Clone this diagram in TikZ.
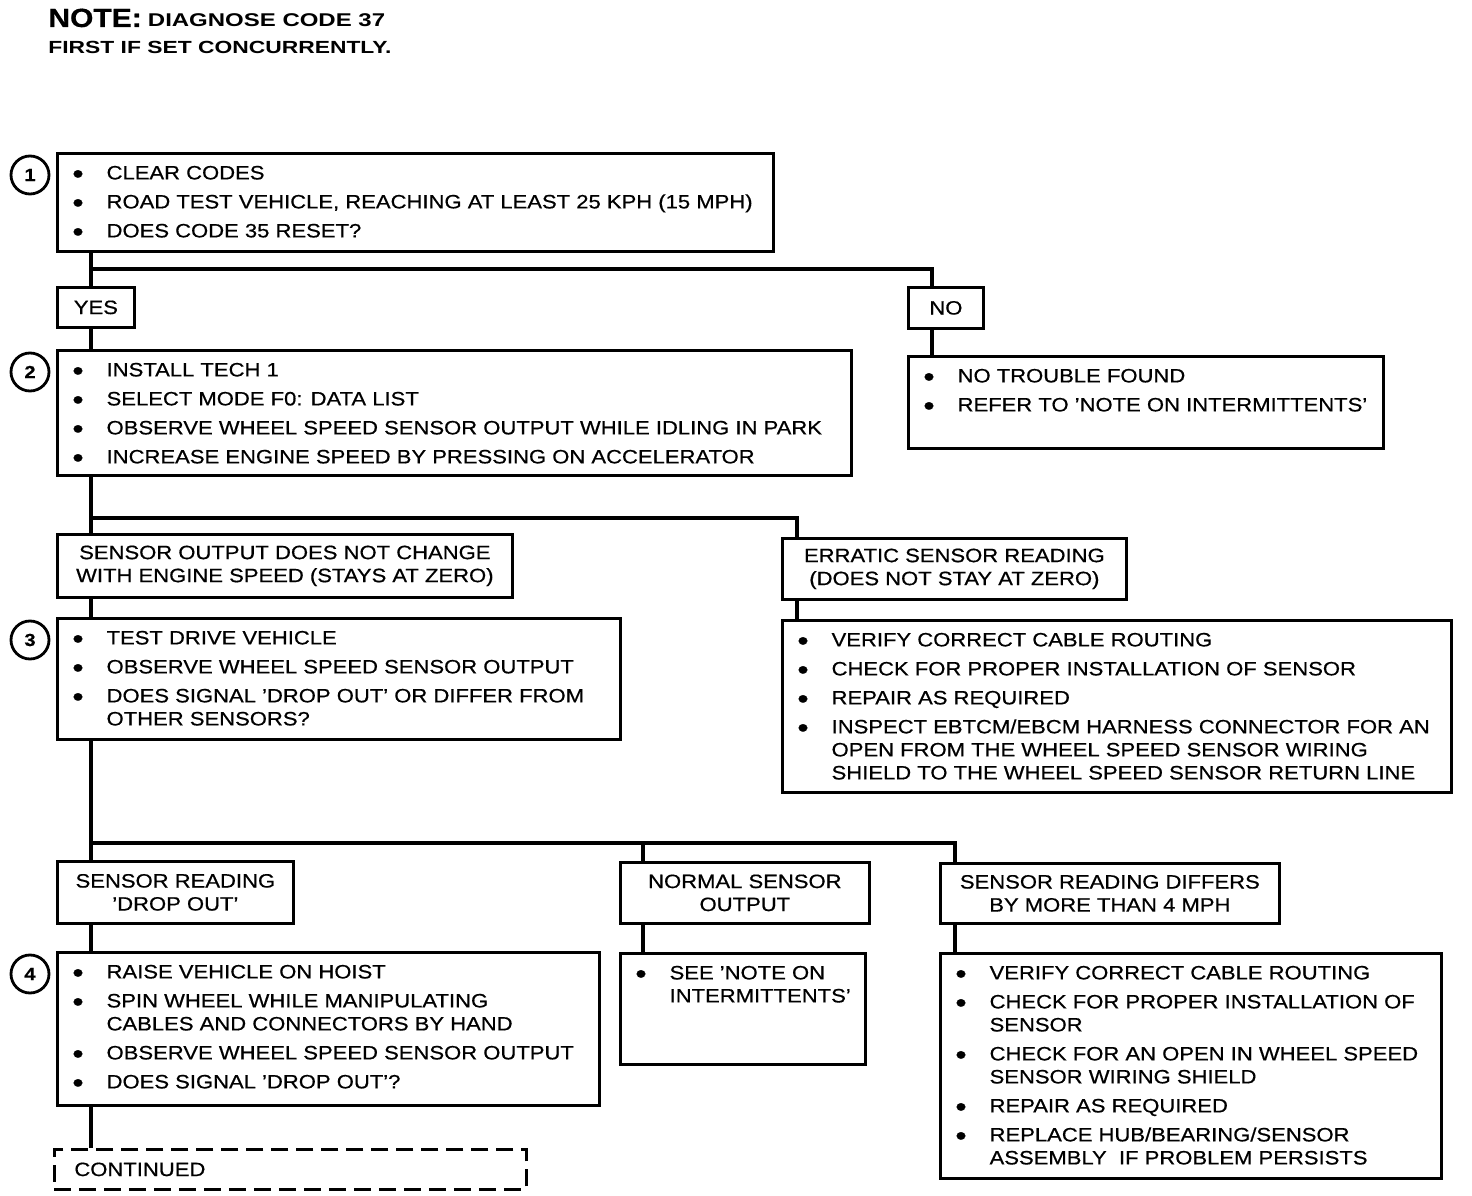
\documentclass[tikz,border=0pt]{standalone}
\usepackage{fontspec}
\setmainfont[FakeStretch=1.14, FakeBold=0.6]{Liberation Sans}
\newfontfamily\notefont[FakeStretch=1.3]{Liberation Sans}

% bullet and top-aligned bullet list for the step boxes
\newcommand{\bul}{\raisebox{-2.2pt}{\fontsize{16}{16}\selectfont\textbullet}}
\newcommand{\steplist}[3]{\parbox[c][#1][t]{#2}{\begin{tabular}[t]{@{\hspace{0.3cm}}l@{\hspace{0.46cm}}l@{}}\rule{0pt}{0.52cm}#3\end{tabular}}}

\tikzset{
	box/.style={draw=black, line width=1.6pt, inner sep=0pt, anchor=north west},
	casebox/.style={box, align=center},
	contbox/.style={box, dash pattern=on 0.34cm off 0.16cm},
	link/.style={draw=black, line width=2.4pt},
	stepnum/.style={draw=black, circle, line width=1.6pt, minimum size=0.76cm, inner sep=0pt, font=\fontsize{10}{10}\selectfont\bfseries}
}

\begin{document}
\begin{tikzpicture}[x=0.02cm, y=-0.02cm, every node/.style={font=\fontsize{11}{13.1}\selectfont}]
		\useasboundingbox (0,0) rectangle (1472,1196);
		
		% ===== NOTE =====
		\node[anchor=base west, inner sep=0pt] (note) at (48,27) {{\fontsize{15}{15}\selectfont\bfseries NOTE:} {\notefont\fontsize{10.5}{10.5}\selectfont\bfseries DIAGNOSE CODE 37}};
		\node[anchor=base west, inner sep=0pt] (note2) at (48,54) {\notefont\fontsize{10}{10}\selectfont\bfseries FIRST IF SET CONCURRENTLY.};
		
		% ===== STEP 1 =====
		\node[box] (step1) at (56,152) {\steplist{1.96cm}{14.32cm}{%
				\bul & CLEAR CODES\\[3.4pt]
				\bul & ROAD TEST VEHICLE, REACHING AT LEAST 25 KPH (15 MPH)\\[3.4pt]
				\bul & DOES CODE 35 RESET?}};
		\node[stepnum] (num1) at ([xshift=-0.52cm,yshift=-0.46cm]step1.north west) {1};
		
		\node[casebox, minimum width=1.54cm, minimum height=0.8cm] (yes) at (56,286) {YES};
		\node[casebox, minimum width=1.5cm, minimum height=0.82cm] (no) at (907,286) {NO};
		
		% No branch
		\node[box] (nores) at (907,355) {\steplist{1.84cm}{9.5cm}{%
				\bul & NO TROUBLE FOUND\\[3.4pt]
				\bul & REFER TO 'NOTE ON INTERMITTENTS'}};
		
		% ===== STEP 2 =====
		\node[box] (step2) at (56,349) {\steplist{2.5cm}{15.88cm}{%
				\bul & INSTALL TECH 1\\[3.4pt]
				\bul & SELECT MODE F0: DATA LIST\\[3.4pt]
				\bul & OBSERVE WHEEL SPEED SENSOR OUTPUT WHILE IDLING IN PARK\\[3.4pt]
				\bul & INCREASE ENGINE SPEED BY PRESSING ON ACCELERATOR}};
		\node[stepnum] (num2) at ([xshift=-0.52cm,yshift=-0.46cm]step2.north west) {2};
		
		\node[casebox, minimum width=9.1cm, minimum height=1.26cm] (zero) at (56,533) {SENSOR OUTPUT DOES NOT CHANGE\\WITH ENGINE SPEED (STAYS AT ZERO)};
		\node[casebox, minimum width=6.88cm, minimum height=1.22cm] (erratic) at (781,537) {ERRATIC SENSOR READING\\(DOES NOT STAY AT ZERO)};
		
		% Erratic branch
		\node[box] (fixlist) at (781,619) {\steplist{3.44cm}{13.38cm}{%
				\bul & VERIFY CORRECT CABLE ROUTING\\[3.4pt]
				\bul & CHECK FOR PROPER INSTALLATION OF SENSOR\\[3.4pt]
				\bul & REPAIR AS REQUIRED\\[3.4pt]
				\bul & INSPECT EBTCM/EBCM HARNESS CONNECTOR FOR AN\\
				& OPEN FROM THE WHEEL SPEED SENSOR WIRING\\
				& SHIELD TO THE WHEEL SPEED SENSOR RETURN LINE}};
		
		% ===== STEP 3 =====
		\node[box] (step3) at (56,617) {\steplist{2.42cm}{11.26cm}{%
				\bul & TEST DRIVE VEHICLE\\[3.4pt]
				\bul & OBSERVE WHEEL SPEED SENSOR OUTPUT\\[3.4pt]
				\bul & DOES SIGNAL 'DROP OUT' OR DIFFER FROM\\
				& OTHER SENSORS?}};
		\node[stepnum] (num3) at ([xshift=-0.52cm,yshift=-0.46cm]step3.north west) {3};
		
		\node[casebox, minimum width=4.72cm, minimum height=1.24cm] (dropout) at (56,860) {SENSOR READING\\'DROP OUT'};
		\node[casebox, minimum width=4.98cm, minimum height=1.22cm] (normal) at (619,861) {NORMAL SENSOR\\OUTPUT};
		\node[casebox, minimum width=6.78cm, minimum height=1.2cm] (differs) at (939,862) {SENSOR READING DIFFERS\\BY MORE THAN 4 MPH};
		
		% ===== STEP 4 =====
		\node[box] (step4) at (56,951) {\steplist{3.06cm}{10.84cm}{%
				\bul & RAISE VEHICLE ON HOIST\\[3.4pt]
				\bul & SPIN WHEEL WHILE MANIPULATING\\
				& CABLES AND CONNECTORS BY HAND\\[3.4pt]
				\bul & OBSERVE WHEEL SPEED SENSOR OUTPUT\\[3.4pt]
				\bul & DOES SIGNAL 'DROP OUT'?}};
		\node[stepnum] (num4) at ([xshift=-0.52cm,yshift=-0.46cm]step4.north west) {4};
		
		\node[box] (seenote) at (619,952) {\steplist{2.22cm}{4.9cm}{%
				\bul & SEE 'NOTE ON\\
				& INTERMITTENTS'}};
		
		\node[box] (difflist) at (939,952) {\steplist{4.5cm}{10.02cm}{%
				\bul & VERIFY CORRECT CABLE ROUTING\\[3.4pt]
				\bul & CHECK FOR PROPER INSTALLATION OF\\
				& SENSOR\\[3.4pt]
				\bul & CHECK FOR AN OPEN IN WHEEL SPEED\\
				& SENSOR WIRING SHIELD\\[3.4pt]
				\bul & REPAIR AS REQUIRED\\[3.4pt]
				\bul & REPLACE HUB/BEARING/SENSOR\\
				& ASSEMBLY\ \ IF PROBLEM PERSISTS}};
		
		\node[contbox] (cont) at (53,1148) {\parbox[c][0.8cm][c]{9.44cm}{\hspace{0.4cm}CONTINUED}};
		
		% ===== CONNECTORS =====
		\draw[link] ([xshift=0.7cm]step1.south west) -- ([xshift=0.7cm]yes.north west);
		\draw[link] ([xshift=0.7cm,yshift=-0.32cm]step1.south west) -| ([xshift=0.5cm]no.north west);
		\draw[link] ([xshift=0.7cm]yes.south west) -- ([xshift=0.7cm]step2.north west);
		\draw[link] ([xshift=0.5cm]no.south west) -- ([xshift=0.5cm]nores.north west);
		
		\draw[link] ([xshift=0.7cm]step2.south west) -- ([xshift=0.7cm]zero.north west);
		\draw[link] ([xshift=0.7cm,yshift=-0.82cm]step2.south west) -| ([xshift=0.32cm]erratic.north west);
		\draw[link] ([xshift=0.7cm]zero.south west) -- ([xshift=0.7cm]step3.north west);
		\draw[link] ([xshift=0.32cm]erratic.south west) -- ([xshift=0.32cm]fixlist.north west);
		
		\coordinate (fork3) at ([xshift=0.7cm,yshift=-2.04cm]step3.south west);
		\coordinate (normtop) at ([xshift=0.48cm]normal.north west);
		\draw[link] ([xshift=0.7cm]step3.south west) -- ([xshift=0.7cm]dropout.north west);
		\draw[link] (fork3) -| ([xshift=0.32cm]differs.north west);
		\draw[link] (normtop) -- (normtop |- fork3);
		
		\coordinate (trunk4) at ([xshift=0.7cm]step4.south west);
		\draw[link] ([xshift=0.7cm]dropout.south west) -- ([xshift=0.7cm]step4.north west);
		\draw[link] ([xshift=0.48cm]normal.south west) -- ([xshift=0.48cm]seenote.north west);
		\draw[link] ([xshift=0.32cm]differs.south west) -- ([xshift=0.32cm]difflist.north west);
		\draw[link] (trunk4) -- (trunk4 |- cont.north);
		
	\end{tikzpicture}
\end{document}
